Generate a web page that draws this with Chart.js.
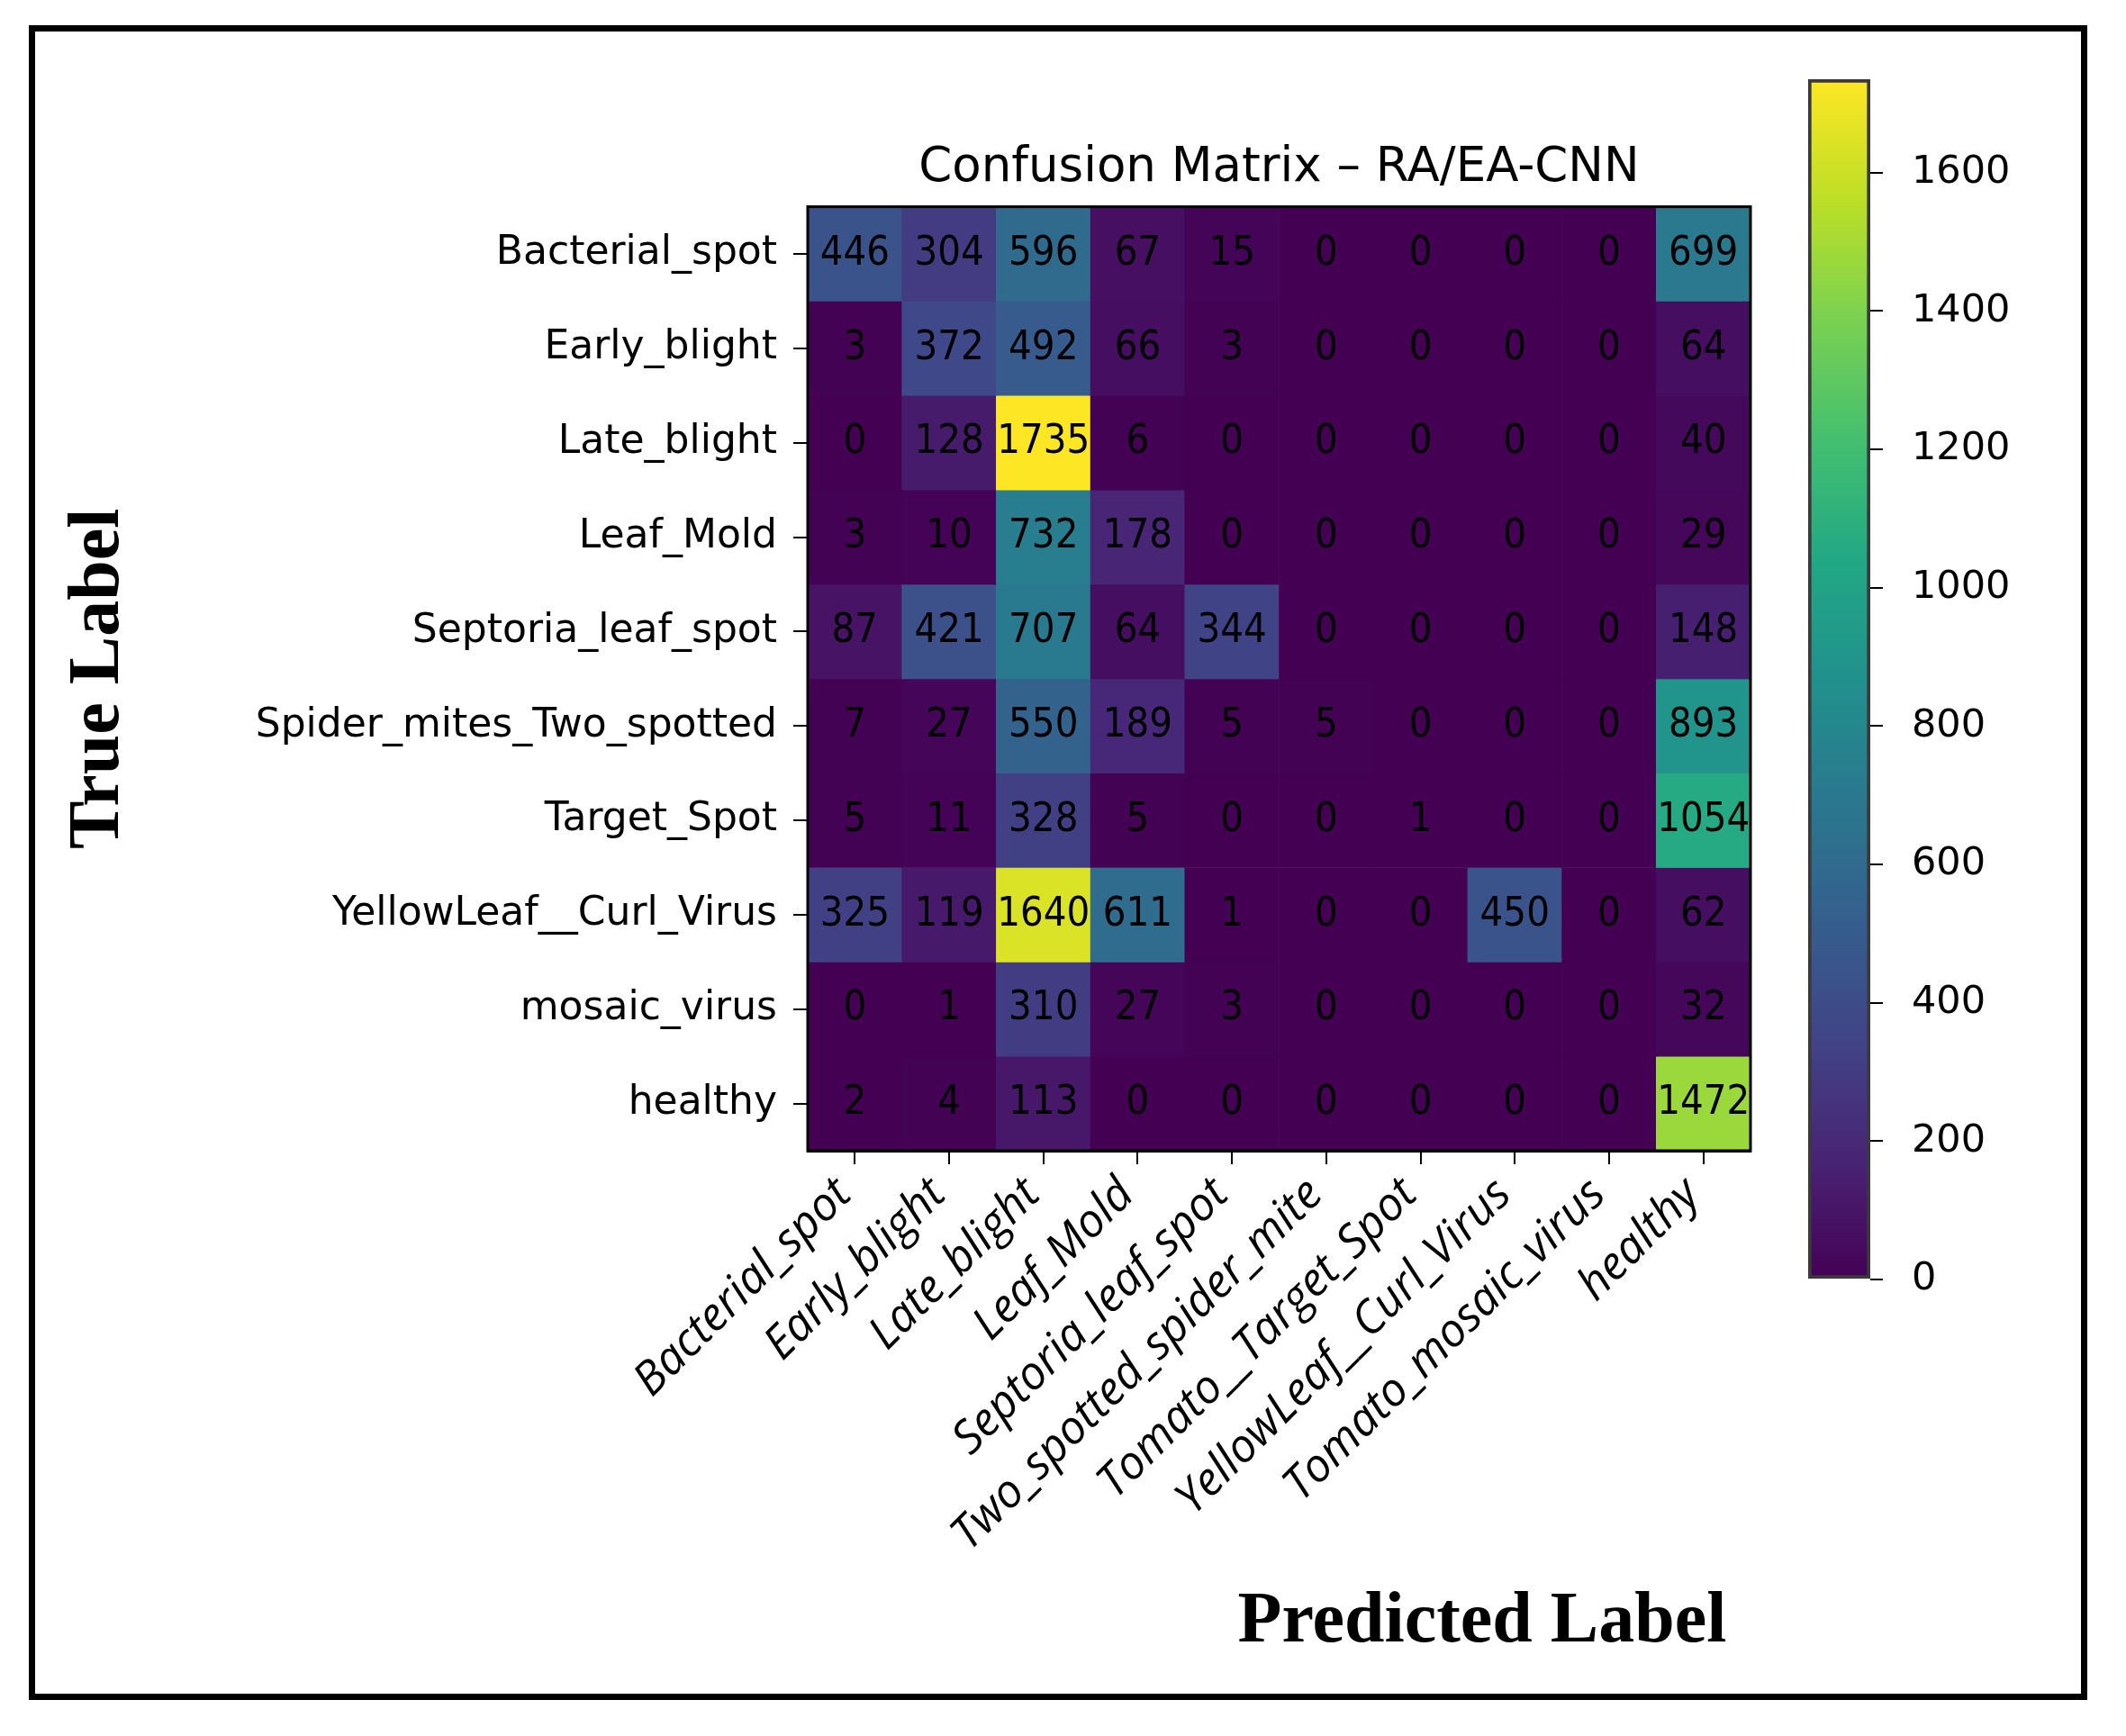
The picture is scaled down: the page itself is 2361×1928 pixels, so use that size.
<!DOCTYPE html>
<html>
<head>
<meta charset="utf-8">
<script src="https://cdn.jsdelivr.net/npm/chart.js@4.4.1/dist/chart.umd.min.js"></script>
<style>
  html, body { margin: 0; padding: 0; background: #fff; }
  body { width: 2361px; height: 1928px; position: relative; overflow: hidden; }
  #frame { position: absolute; left: 32px; top: 28px; width: 2286px; height: 1860px; border: 7px solid #000; box-sizing: border-box; }
  #matrix { position: absolute; left: 0; top: 0; }
  #cbar { position: absolute; left: 1990px; top: 60px; }
</style>
</head>
<body>
<div id="frame"></div>
<canvas id="matrix" width="2361" height="1928"></canvas>
<canvas id="cbar" width="330" height="1420"></canvas>
<script>
// true labels (rows) and predicted labels (columns)
var rowLabels = ["Bacterial_spot", "Early_blight", "Late_blight", "Leaf_Mold", "Septoria_leaf_spot",
  "Spider_mites_Two_spotted", "Target_Spot", "YellowLeaf__Curl_Virus", "mosaic_virus", "healthy"];
var colLabels = ["Bacterial_spot", "Early_blight", "Late_blight", "Leaf_Mold", "Septoria_leaf_spot",
  "Two_spotted_spider_mite", "Tomato__Target_Spot", "YellowLeaf__Curl_Virus", "Tomato_mosaic_virus", "healthy"];

// one row of counts per true label
var rowBacterialSpot = [446, 304, 596, 67, 15, 0, 0, 0, 0, 699];
var rowEarlyBlight   = [3, 372, 492, 66, 3, 0, 0, 0, 0, 64];
var rowLateBlight    = [0, 128, 1735, 6, 0, 0, 0, 0, 0, 40];
var rowLeafMold      = [3, 10, 732, 178, 0, 0, 0, 0, 0, 29];
var rowSeptoria      = [87, 421, 707, 64, 344, 0, 0, 0, 0, 148];
var rowSpiderMites   = [7, 27, 550, 189, 5, 5, 0, 0, 0, 893];
var rowTargetSpot    = [5, 11, 328, 5, 0, 0, 1, 0, 0, 1054];
var rowYellowLeaf    = [325, 119, 1640, 611, 1, 0, 0, 450, 0, 62];
var rowMosaic        = [0, 1, 310, 27, 3, 0, 0, 0, 0, 32];
var rowHealthy       = [2, 4, 113, 0, 0, 0, 0, 0, 0, 1472];

var colorbarTicks = [0, 200, 400, 600, 800, 1000, 1200, 1400, 1600];

var matrix = [rowBacterialSpot, rowEarlyBlight, rowLateBlight, rowLeafMold, rowSeptoria,
  rowSpiderMites, rowTargetSpot, rowYellowLeaf, rowMosaic, rowHealthy];
var vmax = Math.max.apply(null, matrix.map(function (r) { return Math.max.apply(null, r); }));

var viridis = ["#440154", "#482475", "#414487", "#355f8d", "#2a788e", "#21918c",
  "#22a884", "#44bf70", "#7ad151", "#bddf26", "#fde725"];

function hexToRgb(h) {
  return [parseInt(h.substr(1, 2), 16), parseInt(h.substr(3, 2), 16), parseInt(h.substr(5, 2), 16)];
}

function viridisColor(t) {
  t = Math.max(0, Math.min(1, t));
  var p = t * (viridis.length - 1);
  var i = Math.min(viridis.length - 2, Math.floor(p));
  var f = p - i;
  var a = hexToRgb(viridis[i]), b = hexToRgb(viridis[i + 1]);
  return "rgb(" + Math.round(a[0] + (b[0] - a[0]) * f) + "," +
    Math.round(a[1] + (b[1] - a[1]) * f) + "," +
    Math.round(a[2] + (b[2] - a[2]) * f) + ")";
}

Chart.defaults.color = "#000";

var datasets = rowLabels.map(function (name, r) {
  return {
    label: name,
    data: colLabels.map(function () { return [r - 0.5, r + 0.5]; }),
    backgroundColor: matrix[r].map(function (v) { return viridisColor(v / vmax); }),
    borderWidth: 0,
    grouped: false,
    barPercentage: 1,
    categoryPercentage: 1
  };
});

// numbers in the cells, the box round the plot and the x axis name
var cellText = {
  id: "cellText",
  afterDatasetsDraw: function (chart) {
    var ctx = chart.ctx;
    var xs = chart.scales.x, ys = chart.scales.y;
    var a = chart.chartArea;
    ctx.save();
    ctx.font = "45px 'DejaVu Sans Condensed', 'DejaVu Sans'";
    ctx.fillStyle = "#000";
    ctx.textAlign = "center";
    ctx.textBaseline = "middle";
    matrix.forEach(function (row, r) {
      row.forEach(function (v, c) {
        ctx.fillText(String(v), xs.getPixelForValue(c), ys.getPixelForValue(r));
      });
    });
    ctx.strokeStyle = "#000";
    ctx.lineWidth = 3;
    ctx.strokeRect(a.left, a.top, a.right - a.left, a.bottom - a.top);
    ctx.font = "bold 80px 'Liberation Serif'";
    ctx.textBaseline = "alphabetic";
    ctx.fillText("Predicted Label", a.left + 749, 1823);
    ctx.restore();
  }
};

new Chart(document.getElementById("matrix"), {
  type: "bar",
  data: { labels: colLabels, datasets: datasets },
  plugins: [cellText],
  options: {
    responsive: false,
    animation: false,
    devicePixelRatio: 1,
    layout: { padding: { left: 0, top: 155, right: 417, bottom: 0 } },
    plugins: {
      legend: { display: false },
      tooltip: { enabled: false },
      title: {
        display: true,
        text: "Confusion Matrix – RA/EA-CNN",
        fullSize: false,
        color: "#000",
        font: { family: "DejaVu Sans", size: 53, weight: "normal" },
        padding: { top: 0, bottom: 11 }
      }
    },
    scales: {
      x: {
        type: "category",
        offset: true,
        grid: { offset: false, drawOnChartArea: false, drawTicks: true, tickLength: 15, color: "#000", lineWidth: 2 },
        border: { display: true, color: "#000", width: 3 },
        ticks: {
          autoSkip: false, minRotation: 45, maxRotation: 45, padding: 4, labelOffset: -12,
          font: { family: "Open Sans", size: 51, style: "italic" }
        },
        afterFit: function (s) { s.height = 650; }
      },
      y: {
        type: "linear",
        min: -0.5,
        max: 9.5,
        reverse: true,
        afterBuildTicks: function (s) {
          s.ticks = rowLabels.map(function (_, i) { return { value: i }; });
        },
        ticks: {
          padding: 18,
          font: { family: "DejaVu Sans", size: 44 },
          callback: function (v) { return rowLabels[v]; }
        },
        grid: { drawOnChartArea: false, drawTicks: true, tickLength: 16, color: "#000", lineWidth: 2 },
        border: { display: true, color: "#000", width: 3 },
        title: {
          display: true,
          text: "True Label",
          color: "#000",
          font: { family: "Liberation Serif", size: 80, weight: "bold" },
          padding: { top: 62, bottom: 0 }
        },
        afterFit: function (s) { s.width = 897; }
      }
    }
  }
});

// colour bar
new Chart(document.getElementById("cbar"), {
  type: "bar",
  data: {
    labels: [""],
    datasets: [{
      data: [[0, vmax]],
      backgroundColor: function (c) {
        var a = c.chart.chartArea;
        if (!a) return viridis[0];
        var g = c.chart.ctx.createLinearGradient(0, a.bottom, 0, a.top);
        viridis.forEach(function (col, i) { g.addColorStop(i / (viridis.length - 1), col); });
        return g;
      },
      borderColor: "#3a3a3a",
      borderWidth: 4,
      borderSkipped: false,
      barPercentage: 1,
      categoryPercentage: 1
    }]
  },
  options: {
    responsive: false,
    animation: false,
    devicePixelRatio: 1,
    layout: { padding: { left: 18, top: 28, right: 0, bottom: 59 } },
    plugins: { legend: { display: false }, tooltip: { enabled: false } },
    scales: {
      x: { display: false },
      y: {
        position: "right",
        min: 0,
        max: vmax,
        afterBuildTicks: function (s) {
          s.ticks = colorbarTicks.map(function (v) { return { value: v }; });
        },
        grid: { drawOnChartArea: false, drawTicks: true, tickLength: 14, color: "#000", lineWidth: 2 },
        border: { display: false },
        ticks: {
          padding: 32,
          font: { family: "DejaVu Sans", size: 43 },
          callback: function (v) { return String(v); }
        },
        afterFit: function (s) {
          s.width = 243;
          s.paddingTop = 0;
          s.paddingBottom = 0;
        }
      }
    }
  }
});
</script>
</body>
</html>
